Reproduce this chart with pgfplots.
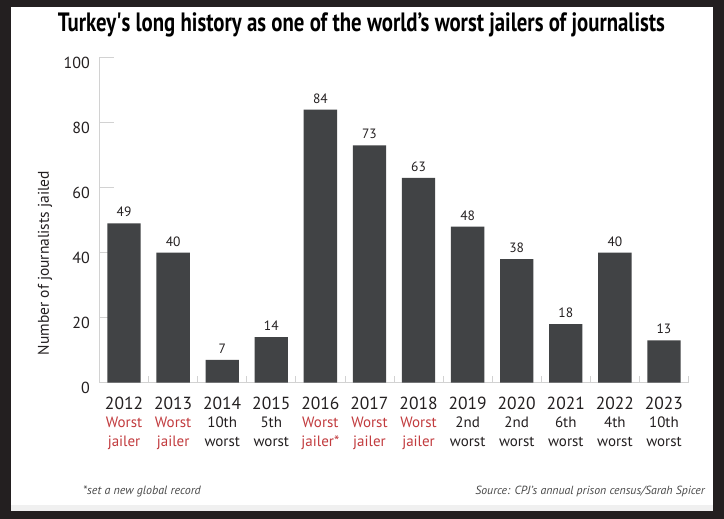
\documentclass[border=0pt]{standalone}
\usepackage{pgfplots}
\pgfplotsset{compat=1.18}
\usepackage{fontspec}
\setmainfont{PT Sans}
\usepackage{graphicx}
\definecolor{frame}{HTML}{231F20}
\definecolor{barc}{HTML}{414345}
\definecolor{redl}{HTML}{C23B3E}
\definecolor{txt}{HTML}{231F20}
\definecolor{axg}{HTML}{D2D2D2}
\definecolor{foot}{HTML}{4A4A4A}
\newcommand{\yr}[1]{{\fontsize{17.5}{18.5}\selectfont #1}}
\newcommand{\rd}[1]{\textcolor{redl}{#1}}
\begin{document}
\begin{tikzpicture}
\fill[frame] (-99.5pt,-136.3pt) rectangle (624.5pt,382.7pt);
\fill[white] (-88.8pt,-128.3pt) rectangle (613.5pt,376pt);
\fill[black!6] (-88.8pt,-128.3pt) rectangle (613.5pt,-122.3pt);
\begin{axis}[
  at={(0pt,0pt)}, anchor=south west,
  width=589pt, height=325pt, scale only axis,
  xmin=-0.5, xmax=11.5, ymin=0, ymax=100,
  axis x line*=bottom, axis y line*=left,
  axis line style={axg, line width=0.8pt, -},
  tick align=inside,
  major tick length=15pt, minor tick length=7pt,
  ytick={0,20,...,100},
  y tick style={axg, line width=0.8pt},
  xtick={0,...,11},
  major x tick style={draw=none},
  minor xtick={-0.5,0.5,...,11.5},
  minor x tick style={axg, line width=0.8pt},
  /pgf/number format/assume math mode=true,
  yticklabel style={font=\fontsize{16}{18}\selectfont, text=txt, anchor=east, inner sep=0pt, xshift=-9.5pt, yshift=-5pt},
  xticklabel style={align=center, anchor=north, inner sep=0pt, yshift=-14pt, font=\fontsize{15}{18.5}\selectfont, text=txt},
  xticklabels={
    {\yr{2012}\\\rd{Worst}\\\rd{jailer}},
    {\yr{2013}\\\rd{Worst}\\\rd{jailer}},
    {\yr{2014}\\10th\\worst},
    {\yr{2015}\\5th\\worst},
    {\yr{2016}\\\rd{Worst}\\\rd{jailer*}},
    {\yr{2017}\\\rd{Worst}\\\rd{jailer}},
    {\yr{2018}\\\rd{Worst}\\\rd{jailer}},
    {\yr{2019}\\2nd\\worst},
    {\yr{2020}\\2nd\\worst},
    {\yr{2021}\\6th\\worst},
    {\yr{2022}\\4th\\worst},
    {\yr{2023}\\10th\\worst}},
  nodes near coords,
  every node near coord/.append style={font=\fontsize{13.5}{15}\selectfont, text=txt, anchor=base, inner sep=0pt, yshift=6.5pt},
]
\addplot[ybar, bar width=33.4pt, fill=barc, draw=none] coordinates {
  (0,49) (1,40) (2,7) (3,14) (4,84) (5,73) (6,63) (7,48) (8,38) (9,18) (10,40) (11,13)};
\end{axis}
\node[anchor=base, font=\bfseries\fontsize{26.5}{30}\selectfont, text=black] at (262pt,350.7pt) {\resizebox{607pt}{\height}{Turkey\textquotesingle s long history as one of the world’s worst jailers of journalists}};
\node[rotate=90, font=\fontsize{15.5}{17}\selectfont, text=txt] at (-54.5pt,119.7pt) {Number of journalists jailed};
\node[anchor=base west, font=\itshape\fontsize{12}{14}\selectfont, text=foot, inner sep=0pt] at (-16.5pt,-112.3pt) {*set a new global record};
\node[anchor=base east, font=\itshape\fontsize{11.8}{14}\selectfont, text=foot, inner sep=0pt] at (605.5pt,-112.3pt) {Source: CPJ’s annual prison census/Sarah Spicer};
\end{tikzpicture}
\end{document}
